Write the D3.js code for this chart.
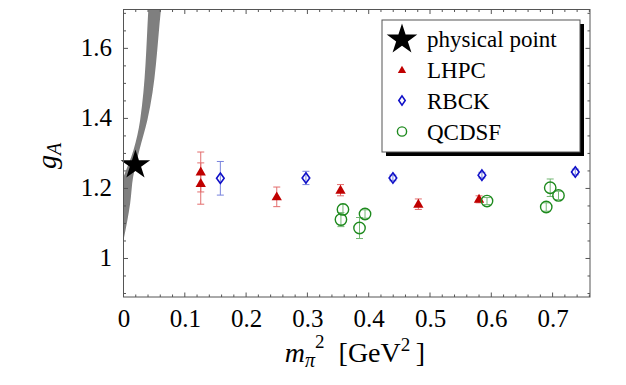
<!DOCTYPE html>
<html>
<head>
<meta charset="utf-8">
<script src="https://cdn.jsdelivr.net/npm/d3@7"></script>
<style>
  body { margin: 0; background: #fff; }
  text { font-family: "Liberation Serif", "DejaVu Serif", serif; }
</style>
</head>
<body>
<svg id="chart" width="626" height="385"></svg>
<script>
// data (m_pi^2 in GeV^2, g_A, error)
const lhpcX = [0.126, 0.126, 0.250, 0.354, 0.481, 0.580];
const lhpcY = [1.247, 1.214, 1.176, 1.195, 1.155, 1.169];
const lhpcErr = [0.057, 0.059, 0.028, 0.016, 0.015, 0.010];

const rbckX = [0.158, 0.2976, 0.4395, 0.5847, 0.737];
const rbckY = [1.229, 1.230, 1.230, 1.238, 1.247];
const rbckErr = [0.048, 0.019, 0.008, 0.008, 0.008];

const qcdsfX = [0.3547, 0.358, 0.385, 0.394, 0.593, 0.6896, 0.6961, 0.7096];
const qcdsfY = [1.111, 1.140, 1.087, 1.127, 1.164, 1.147, 1.202, 1.180];
const qcdsfErr = [0.020, 0.015, 0.030, 0.012, 0.010, 0.012, 0.025, 0.012];

const physX = 0.0195, physY = 1.267;

// chiral extrapolation band: g_A levels, left and right edge in m_pi^2
const bandG  = [1.052, 1.158, 1.233, 1.309, 1.395, 1.711, 1.76];
const bandLo = [-0.040, -0.016, 0.000, 0.0162, 0.0271, 0.0405, 0.042];
const bandHi = [0.000, 0.0109, 0.0157, 0.0259, 0.0389, 0.0611, 0.064];

const xTicks = [0, 0.1, 0.2, 0.3, 0.4, 0.5, 0.6, 0.7];
const yTicks = [1, 1.2, 1.4, 1.6];
const legendLabels = ["physical point", "LHPC", "RBCK", "QCDSF"];

// layout
const margin = {top: 9.5, right: 36, bottom: 88, left: 123.5};
const W = 626, H = 385;
const w = W - margin.left - margin.right;
const h = H - margin.top - margin.bottom;

const svg = d3.select("#chart");
const g = svg.append("g").attr("transform", `translate(${margin.left},${margin.top})`);

const x = d3.scaleLinear().domain([0, 0.761]).range([0, w]);
const y = d3.scaleLinear().domain([0.89, 1.711]).range([h, 0]);

svg.append("defs").append("clipPath").attr("id", "clip")
  .append("rect").attr("width", w).attr("height", h);

const plot = g.append("g").attr("clip-path", "url(#clip)");

// band
const band = bandG.map((v, i) => ({g: v, lo: bandLo[i], hi: bandHi[i]}));
plot.append("path")
  .datum(band)
  .attr("d", d3.area().y(d => y(d.g)).x0(d => x(d.lo)).x1(d => x(d.hi)).curve(d3.curveMonotoneY))
  .attr("fill", "#7f7f7f");

// series helper
function errBars(xs, ys, es, color) {
  const data = xs.map((v, i) => ({x: v, y: ys[i], e: es[i]}));
  const eg = plot.append("g").attr("stroke", color).attr("stroke-width", 1).attr("opacity", 0.7);
  eg.selectAll("line.v").data(data).join("line").attr("class", "v")
    .attr("x1", d => x(d.x)).attr("x2", d => x(d.x))
    .attr("y1", d => y(d.y - d.e)).attr("y2", d => y(d.y + d.e));
  eg.selectAll("line.t").data(data).join("line").attr("class", "t")
    .attr("x1", d => x(d.x) - 3.5).attr("x2", d => x(d.x) + 3.5)
    .attr("y1", d => y(d.y + d.e)).attr("y2", d => y(d.y + d.e));
  eg.selectAll("line.b").data(data).join("line").attr("class", "b")
    .attr("x1", d => x(d.x) - 3.5).attr("x2", d => x(d.x) + 3.5)
    .attr("y1", d => y(d.y - d.e)).attr("y2", d => y(d.y - d.e));
  return data;
}

const red = "#c00000", blue = "#1010c8", green = "#1e8a1e";
const tri = d3.symbol().type(d3.symbolTriangle).size(46);

const lhpc = errBars(lhpcX, lhpcY, lhpcErr, "#d83030");
const rbck = errBars(rbckX, rbckY, rbckErr, "#4050d0");
const qcdsf = errBars(qcdsfX, qcdsfY, qcdsfErr, "#3a9a3a");

plot.selectAll("path.lhpc").data(lhpc).join("path").attr("class", "lhpc")
  .attr("d", tri).attr("fill", red)
  .attr("transform", d => `translate(${x(d.x)},${y(d.y) + 0.5})`);

function diamondPath(cx, cy, rx, ry) {
  return `M${cx},${cy - ry}L${cx + rx},${cy}L${cx},${cy + ry}L${cx - rx},${cy}Z`;
}
plot.selectAll("path.rbck").data(rbck).join("path").attr("class", "rbck")
  .attr("d", d => diamondPath(x(d.x), y(d.y), 3.8, 5.2))
  .attr("fill", "none").attr("stroke", blue).attr("stroke-width", 1.6);

plot.selectAll("circle.qcdsf").data(qcdsf).join("circle").attr("class", "qcdsf")
  .attr("cx", d => x(d.x)).attr("cy", d => y(d.y)).attr("r", 5.7)
  .attr("fill", "none").attr("stroke", green).attr("stroke-width", 1.4);

const star = d3.symbol().type(d3.symbolStar);
g.append("path").attr("d", star.size(270))
  .attr("transform", `translate(${x(physX)},${y(physY)})`).attr("fill", "#000");

// frame + ticks
const frameColor = "#555";
g.append("rect").attr("width", w).attr("height", h)
  .attr("fill", "none").attr("stroke", frameColor).attr("stroke-width", 1);

const xMinor = d3.range(0, 0.761, 0.02);
const yMinor = d3.range(0.9, 1.711, 0.05);
const tk = g.append("g").attr("stroke", frameColor).attr("stroke-width", 1);
xMinor.forEach(v => {
  const big = Math.abs(v * 10 - Math.round(v * 10)) < 1e-6;
  const L = big ? 4.5 : 2.5;
  tk.append("line").attr("x1", x(v)).attr("x2", x(v)).attr("y1", h).attr("y2", h - L);
  tk.append("line").attr("x1", x(v)).attr("x2", x(v)).attr("y1", 0).attr("y2", L);
});
yMinor.forEach(v => {
  const big = Math.abs(v * 5 - Math.round(v * 5)) < 1e-6;
  const L = big ? 4.5 : 2.5;
  tk.append("line").attr("y1", y(v)).attr("y2", y(v)).attr("x1", 0).attr("x2", L);
  tk.append("line").attr("y1", y(v)).attr("y2", y(v)).attr("x1", w).attr("x2", w - L);
});

// tick labels
g.selectAll("text.xt").data(xTicks).join("text").attr("class", "xt")
  .attr("x", d => x(d) + 0.5).attr("y", h + 30).attr("text-anchor", "middle")
  .attr("font-size", 25).text(d => d === 0 ? "0" : d.toString());
g.selectAll("text.yt").data(yTicks).join("text").attr("class", "yt")
  .attr("x", -11.5).attr("y", d => y(d) + 7.5).attr("text-anchor", "end")
  .attr("font-size", 25).text(d => d === 1 ? "1" : d.toFixed(1));

// axis titles
const xl = svg.append("text").attr("x", 355).attr("y", 362).attr("text-anchor", "middle").attr("font-size", 28);
xl.append("tspan").attr("font-style", "italic").text("m");
xl.append("tspan").attr("font-style", "italic").attr("font-size", 20).attr("dy", 5).text("π");
xl.append("tspan").attr("font-size", 19).attr("dy", -19).text("2");
xl.append("tspan").attr("dy", 14).text("\u2002[GeV");
xl.append("tspan").attr("font-size", 19).attr("dy", -11).text("2");
xl.append("tspan").attr("dy", 11).text("\u2009]");

const yl = svg.append("text").attr("transform", "translate(56,156) rotate(-90)")
  .attr("text-anchor", "middle").attr("font-size", 28);
yl.append("tspan").attr("font-style", "italic").text("g");
yl.append("tspan").attr("font-style", "italic").attr("font-size", 20).attr("dy", 5).text("A");

// legend
const lg = svg.append("g").attr("transform", "translate(382,20)");
const lw = 198, lh = 132;
lg.append("rect").attr("x", 4).attr("y", 4).attr("width", lw).attr("height", lh).attr("fill", "#000");
lg.append("rect").attr("width", lw).attr("height", lh).attr("fill", "#fff")
  .attr("stroke", frameColor).attr("stroke-width", 1);
const rowY = i => 18.5 + i * 31;
lg.append("path").attr("d", star.size(290)).attr("transform", `translate(20,${rowY(0) + 1})`).attr("fill", "#000");
lg.append("path").attr("d", d3.symbol().type(d3.symbolTriangle).size(30)).attr("transform", `translate(20,${rowY(1) + 1})`).attr("fill", red);
lg.append("path").attr("d", diamondPath(20, rowY(2), 3.2, 4.6)).attr("fill", "none").attr("stroke", blue).attr("stroke-width", 1.6);
lg.append("circle").attr("cx", 20).attr("cy", rowY(3)).attr("r", 4.6).attr("fill", "none").attr("stroke", green).attr("stroke-width", 1.4);
lg.selectAll("text").data(legendLabels).join("text")
  .attr("x", 45).attr("y", (d, i) => rowY(i) + 8).attr("font-size", 23).text(d => d);
</script>
</body>
</html>
